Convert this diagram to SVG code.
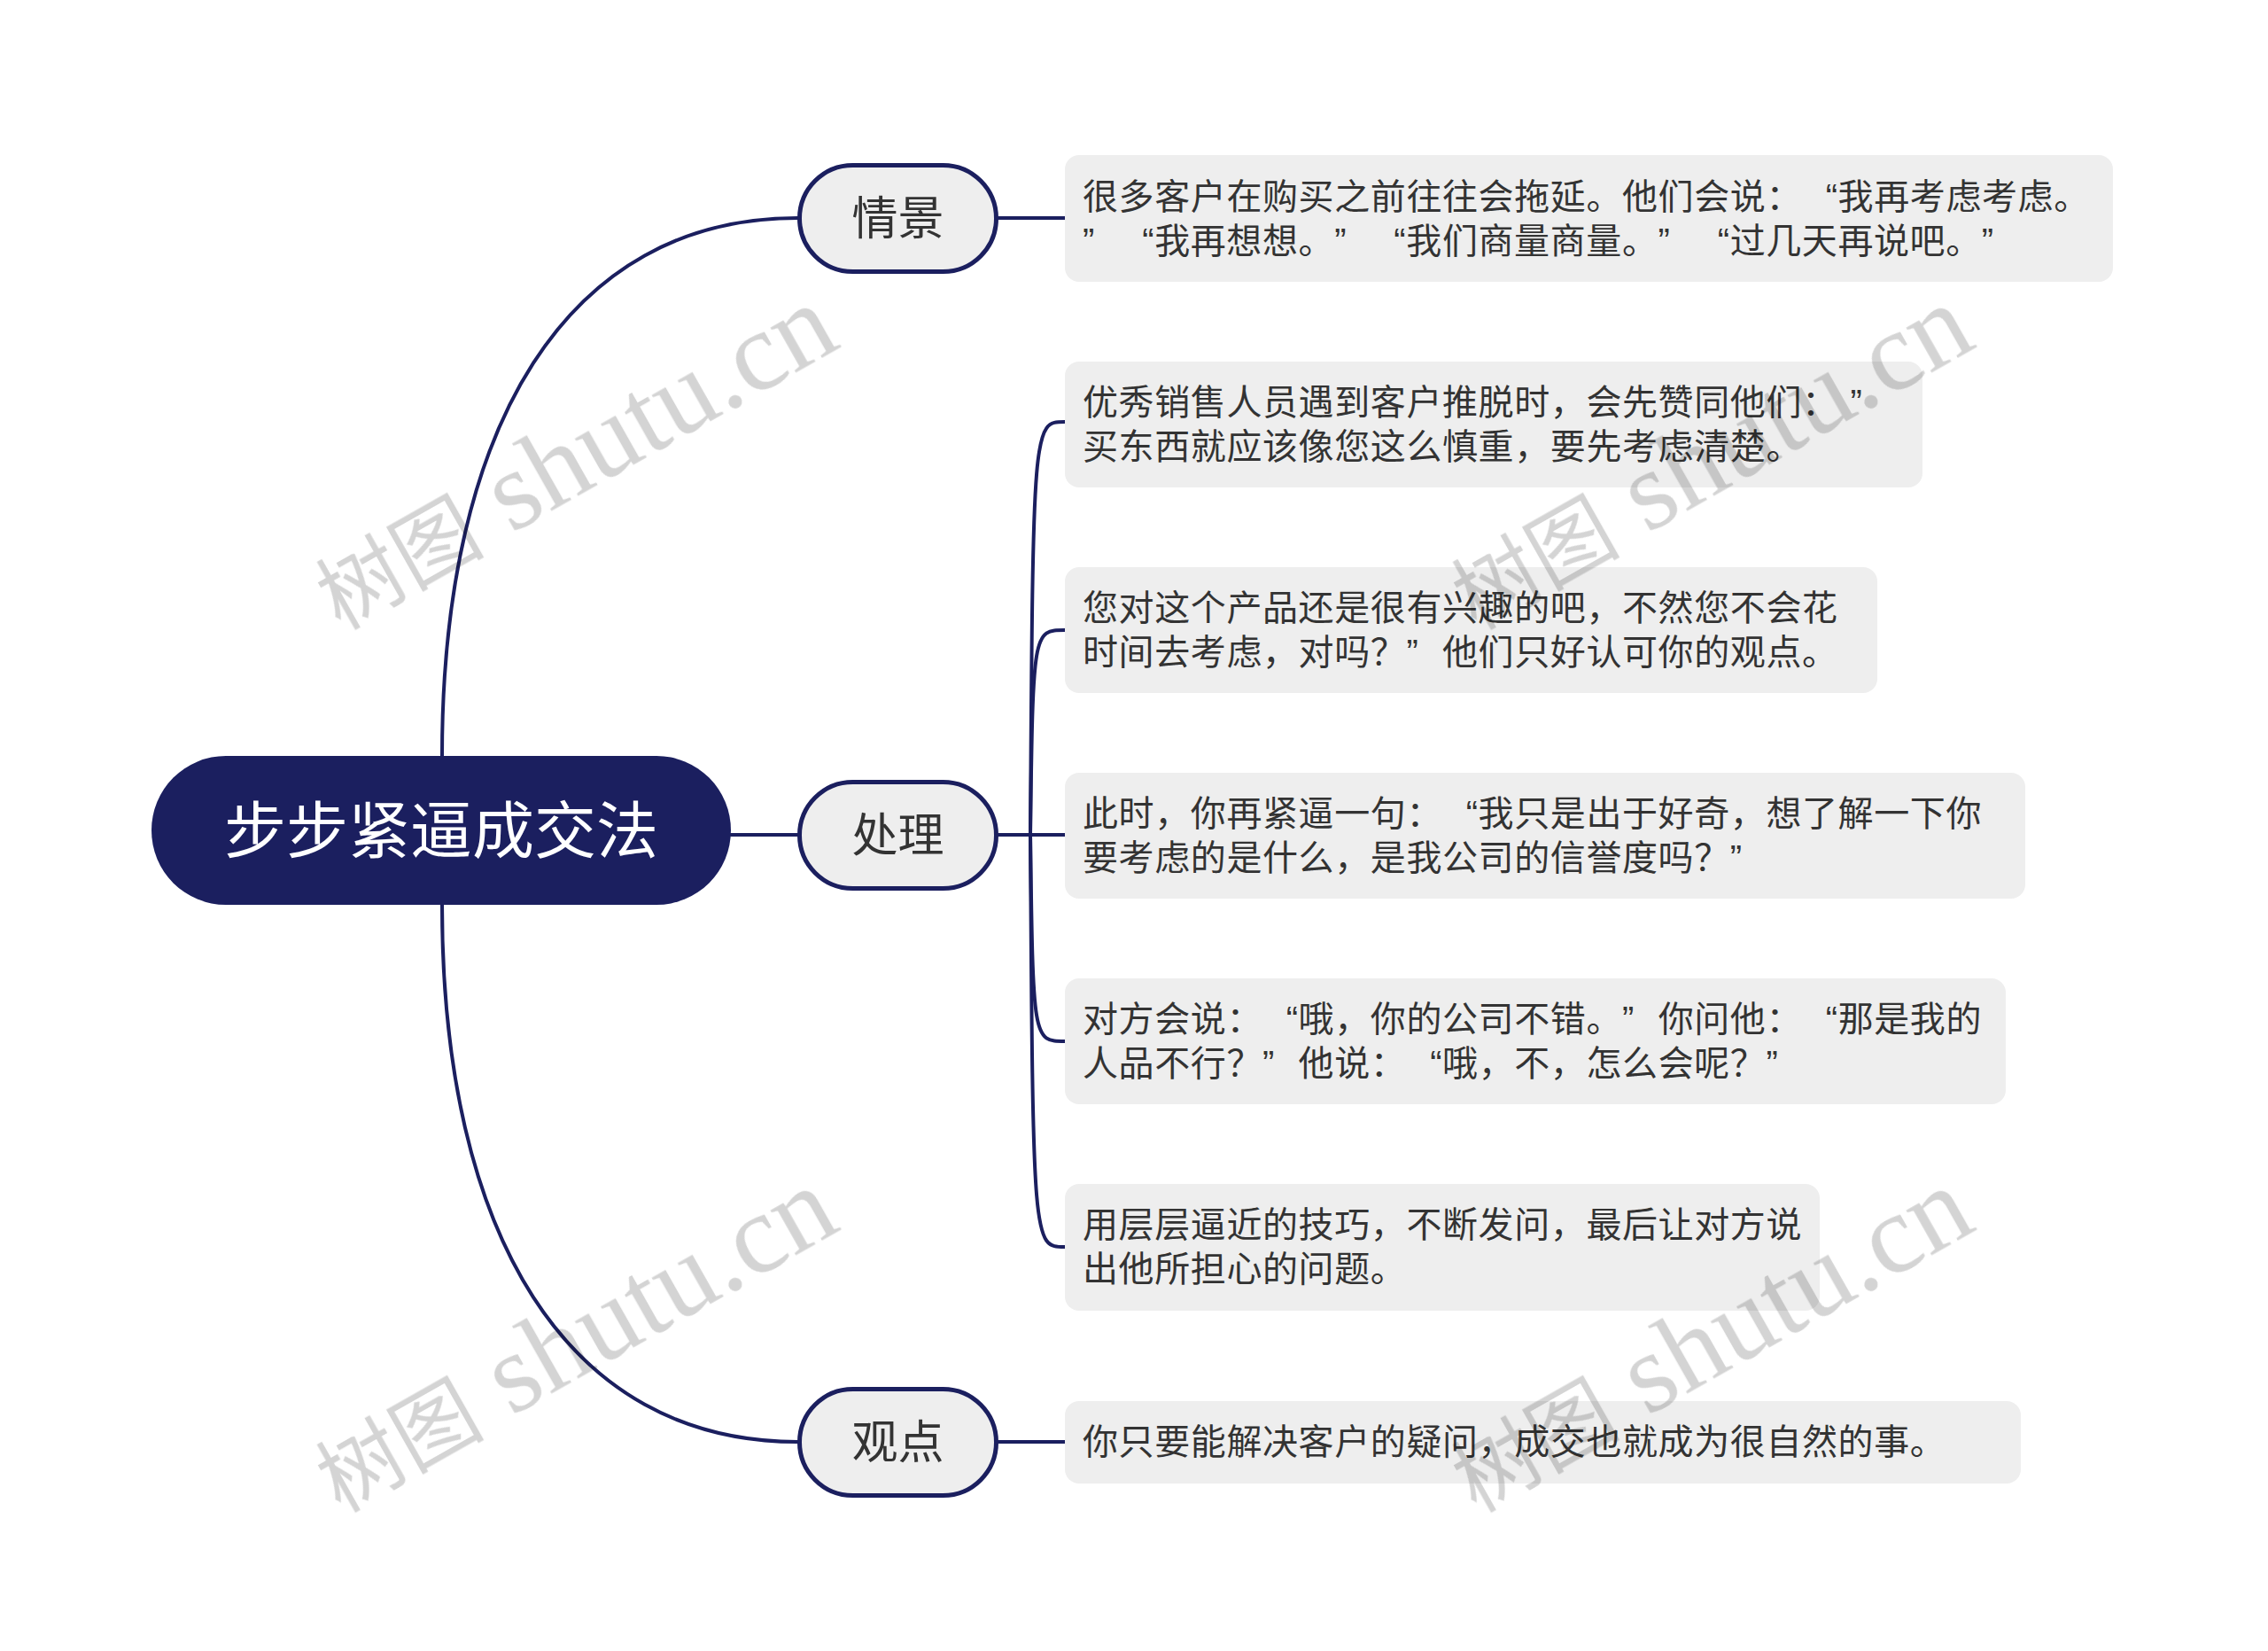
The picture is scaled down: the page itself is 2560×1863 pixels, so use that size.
<svg xmlns="http://www.w3.org/2000/svg" width="2560" height="1863" viewBox="0 0 2560 1863">
<style>
.conn{fill:none;stroke:#1b1f5f;stroke-width:4;stroke-linecap:round}
.topic rect{fill:#eeeeee;stroke:#1b1f5f;stroke-width:5}
.leaf rect{fill:#eeeeee}
.lt{font-family:"Noto Sans CJK SC","Noto Sans",sans-serif;font-size:40px;letter-spacing:0.6px;fill:#333333;text-spacing-trim:space-all}
.q{font-family:"Liberation Sans",sans-serif}
.nt{font-family:"Noto Sans CJK SC","Noto Sans",sans-serif;font-size:52px;fill:#333333;text-anchor:middle}
.rt{font-family:"Noto Sans CJK SC","Noto Sans",sans-serif;font-size:70px;fill:#ffffff;text-anchor:middle}
.wm{font-family:"Liberation Serif","Noto Sans CJK SC",serif;fill:#d4d4d4}
</style>
<rect width="2560" height="1863" fill="#ffffff"/>

<g id="connectors">
<path class="conn" d="M499,853 C499,480 640,246 900,246"/>
<path class="conn" d="M499,1021 C499,1394 640,1627 900,1627"/>
<path class="conn" d="M825,942 H900"/>
<path class="conn" d="M1127,246 H1202"/>
<path class="conn" d="M1127,1627 H1202"/>
<path class="conn" d="M1127,942 H1163"/>
<path class="conn" d="M1163,942 C1166,476 1166,476 1202,476"/>
<path class="conn" d="M1163,942 C1166,711 1166,711 1202,711"/>
<path class="conn" d="M1163,942 H1202"/>
<path class="conn" d="M1163,942 C1166,1175 1166,1175 1202,1175"/>
<path class="conn" d="M1163,942 C1166,1407 1166,1407 1202,1407"/>
</g>

<g id="root">
<rect x="171" y="853" width="654" height="168" rx="84" fill="#1b1f5f"/>
<text class="rt" x="498" y="963">步步紧逼成交法</text>
</g>

<g id="topic-qingjing" class="topic">
<rect x="902.5" y="186.5" width="222" height="120" rx="60"/>
<text class="nt" x="1013.5" y="265">情景</text>
</g>
<g id="topic-chuli" class="topic">
<rect x="902.5" y="882.5" width="222" height="120" rx="60"/>
<text class="nt" x="1013.5" y="961">处理</text>
</g>
<g id="topic-guandian" class="topic">
<rect x="902.5" y="1567.5" width="222" height="120" rx="60"/>
<text class="nt" x="1013.5" y="1646">观点</text>
</g>

<g id="leaf-1" class="leaf">
<rect x="1202" y="175" width="1183" height="143" rx="16"/>
<text class="lt"><tspan x="1222" y="236">很多客户在购买之前往往会拖延。他们会说：<tspan class="q" dx="26.7">“</tspan>我再考虑考虑。</tspan><tspan x="1222" y="286"><tspan class="q">”</tspan><tspan class="q" dx="53.3">“</tspan>我再想想。<tspan class="q">”</tspan><tspan class="q" dx="53.3">“</tspan>我们商量商量。<tspan class="q">”</tspan><tspan class="q" dx="53.3">“</tspan>过几天再说吧。<tspan class="q">”</tspan></tspan></text>
</g>
<g id="leaf-2" class="leaf">
<rect x="1202" y="408" width="968" height="142" rx="16"/>
<text class="lt"><tspan x="1222" y="468">优秀销售人员遇到客户推脱时，会先赞同他们：<tspan class="q" dx="14">”</tspan></tspan><tspan x="1222" y="518">买东西就应该像您这么慎重，要先考虑清楚。</tspan></text>
</g>
<g id="leaf-3" class="leaf">
<rect x="1202" y="640" width="917" height="142" rx="16"/>
<text class="lt"><tspan x="1222" y="700">您对这个产品还是很有兴趣的吧，不然您不会花</tspan><tspan x="1222" y="750">时间去考虑，对吗？<tspan class="q">”</tspan><tspan dx="26.7">他们只好认可你的观点。</tspan></tspan></text>
</g>
<g id="leaf-4" class="leaf">
<rect x="1202" y="872" width="1084" height="142" rx="16"/>
<text class="lt"><tspan x="1222" y="932">此时，你再紧逼一句：<tspan class="q" dx="26.7">“</tspan>我只是出于好奇，想了解一下你</tspan><tspan x="1222" y="982">要考虑的是什么，是我公司的信誉度吗？<tspan class="q">”</tspan></tspan></text>
</g>
<g id="leaf-5" class="leaf">
<rect x="1202" y="1104" width="1062" height="142" rx="16"/>
<text class="lt"><tspan x="1222" y="1164">对方会说：<tspan class="q" dx="26.7">“</tspan>哦，你的公司不错。<tspan class="q">”</tspan><tspan dx="26.7">你问他：</tspan><tspan class="q" dx="26.7">“</tspan>那是我的</tspan><tspan x="1222" y="1214">人品不行？<tspan class="q">”</tspan><tspan dx="26.7">他说：</tspan><tspan class="q" dx="26.7">“</tspan>哦，不，怎么会呢？<tspan class="q">”</tspan></tspan></text>
</g>
<g id="leaf-6" class="leaf">
<rect x="1202" y="1336" width="852" height="143" rx="16"/>
<text class="lt"><tspan x="1222" y="1396">用层层逼近的技巧，不断发问，最后让对方说</tspan><tspan x="1222" y="1446">出他所担心的问题。</tspan></text>
</g>
<g id="leaf-7" class="leaf">
<rect x="1202" y="1581" width="1079" height="93" rx="16"/>
<text class="lt" x="1222" y="1641">你只要能解决客户的疑问，成交也就成为很自然的事。</text>
</g>

<g id="watermarks" style="mix-blend-mode:multiply">
<text class="wm" transform="translate(384,712) rotate(-29.5)"><tspan font-size="95">树图</tspan><tspan font-size="128"> shutu.cn</tspan></text>
<text class="wm" transform="translate(1666,712) rotate(-29.5)"><tspan font-size="95">树图</tspan><tspan font-size="128"> shutu.cn</tspan></text>
<text class="wm" transform="translate(384,1708) rotate(-29.5)"><tspan font-size="95">树图</tspan><tspan font-size="128"> shutu.cn</tspan></text>
<text class="wm" transform="translate(1666,1708) rotate(-29.5)"><tspan font-size="95">树图</tspan><tspan font-size="128"> shutu.cn</tspan></text>
</g>
</svg>
